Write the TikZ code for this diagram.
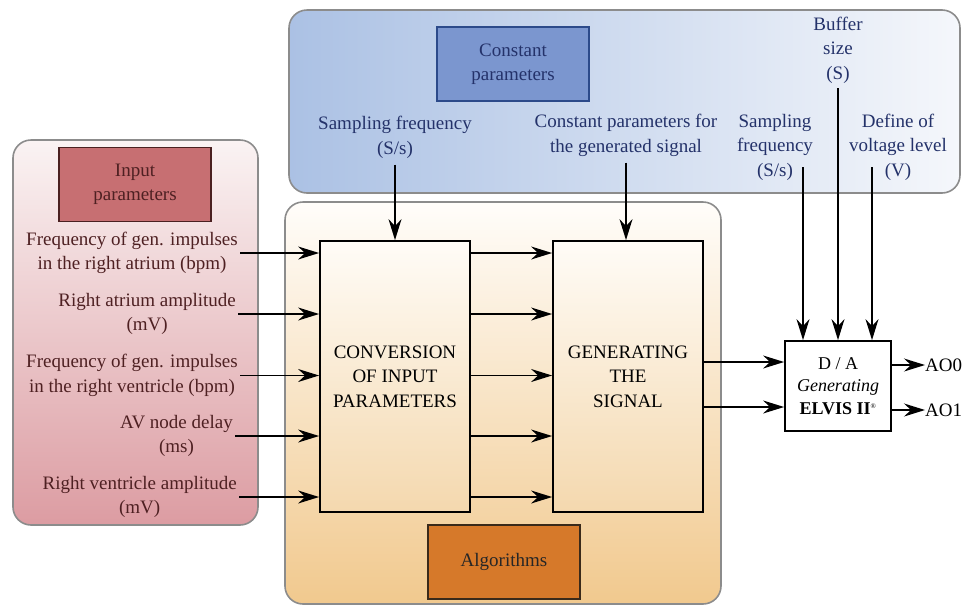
\documentclass[tikz,border=0pt]{standalone}
\usepackage{fontspec}
\setmainfont{LiberationSerif}[Extension=.ttf,UprightFont=*-Regular,BoldFont=*-Bold,ItalicFont=*-Italic,BoldItalicFont=*-BoldItalic]
\usetikzlibrary{arrows.meta,calc}
\definecolor{pinktxt}{HTML}{4E2022}
\definecolor{bluetxt}{HTML}{24326A}
\definecolor{outerborder}{HTML}{8C8C8C}
\definecolor{pinktop}{HTML}{FAF3F3}
\definecolor{pinkbot}{HTML}{DC9CA2}
\definecolor{blueleft}{HTML}{ABC1E4}
\definecolor{blueright}{HTML}{F5F7FB}
\definecolor{orgtop}{HTML}{FFFDFA}
\definecolor{orgbot}{HTML}{F1C98E}
\definecolor{blktop}{HTML}{FFFCF7}
\definecolor{blkbot}{HTML}{F4D8AE}
\definecolor{inpfill}{HTML}{C76F72}
\definecolor{inpdraw}{HTML}{4A2020}
\definecolor{cstfill}{HTML}{7B96CF}
\definecolor{cstdraw}{HTML}{2C4A8A}
\definecolor{algfill}{HTML}{D6792A}
\definecolor{algdraw}{HTML}{3A2A1A}
\begin{document}
\begin{tikzpicture}[x=1pt,y=-1pt,
  font=\rmfamily\fontsize{19}{24.5}\selectfont,
  outer/.style={draw=outerborder,line width=1.6pt,rounded corners=18pt,inner sep=0pt},
  block/.style={draw=black,line width=1.8pt,top color=blktop,bottom color=blkbot,inner sep=0pt,
    minimum width=150pt,minimum height=271pt,align=center},
  tag/.style={line width=1.6pt,inner sep=0pt,minimum width=152pt,minimum height=74pt,align=center},
  lbl/.style={align=center,inner sep=0pt},
  arr/.style={line width=1.5pt,-{Stealth[length=21pt,width=13pt,inset=7pt]}}]
\useasboundingbox (0,0) rectangle (974,606);
% outer regions
\node[outer,minimum width=245pt,minimum height=385pt,top color=pinktop,bottom color=pinkbot] (pinkreg) at (135.5,332.5) {};
\node[outer,minimum width=671pt,minimum height=183pt,left color=blueleft,right color=blueright] (bluereg) at (624.5,101.5) {};
\node[outer,minimum width=436pt,minimum height=402pt,top color=orgtop,bottom color=orgbot] (orgreg) at (503,403) {};
% title tags
\node[tag,draw=inpdraw,fill=inpfill,text=pinktxt] (inp) at (135,184.5) {Input\\parameters};
\node[tag,draw=cstdraw,fill=cstfill,text=bluetxt] (cst) at (513,64) {Constant\\parameters};
\node[tag,draw=algdraw,fill=algfill,text=black!85] (alg) at (504,562) {Algorithms};
% main blocks
\node[block] (conv) at (395,376.5) {CONVERSION\\OF INPUT\\PARAMETERS};
\node[block] (gen) at (628,376.5) {GENERATING\\THE\\SIGNAL};
\node[draw=black,line width=1.8pt,fill=white,minimum width=106pt,minimum height=90pt,inner sep=0pt,
  align=center,font=\rmfamily\fontsize{18}{22.5}\selectfont] (da) at (838,386)
  {D / A\\\textit{Generating}\\\textbf{ELVIS II}\textsuperscript{\scriptsize ®}};
% input labels
\begin{scope}[every node/.style={lbl,text=pinktxt,anchor=east}]
\node (in1) at (238,253) {Frequency of gen. impulses\\in the right atrium (bpm)};
\node (in2) at (236,314) {Right atrium amplitude\\(mV)};
\node (in3) at (238,375.5) {Frequency of gen. impulses\\in the right ventricle (bpm)};
\node (in4) at (233,436) {AV node delay\\(ms)};
\node (in5) at (237,497) {Right ventricle amplitude\\(mV)};
\end{scope}
% constant labels
\begin{scope}[every node/.style={lbl,text=bluetxt}]
\node (sf1) at (395,137.5) {Sampling frequency\\(S/s)};
\node (cpg) at (626,135.5) {Constant parameters for\\the generated signal};
\node (sf2) at (775,147) {Sampling\\frequency\\(S/s)};
\node (buf) at (838,50) {Buffer\\size\\(S)};
\node (vol) at (898,147) {Define of\\voltage level\\(V)};
\end{scope}
\coordinate (sf2s) at (803,167);
\coordinate (bufs) at (838,88);
\coordinate (vols) at (872,167);
\coordinate (g1) at ($(da.west)+(0,-24)$);
\coordinate (g2) at ($(da.west)+(0,21)$);
% outputs
\node[lbl,anchor=west] (ao0) at (925,365) {AO0};
\node[lbl,anchor=west] (ao1) at (925,410) {AO1};
% connectors: inputs
\foreach \n in {in1,in2,in3,in4,in5}{
  \draw[arr] (\n.east) ++(2,0) -- (\n.east -| conv.west);
  \draw[arr] (\n.east -| conv.east) -- (\n.east -| gen.west);
}
% constant inputs
\draw[arr] ([yshift=-6pt]sf1.south) -- (conv.north);
\draw[arr] ([yshift=-6pt]cpg.south) -- (cpg.south |- gen.north);
\draw[arr] (sf2s) -- (sf2s |- da.north);
\draw[arr] (bufs) -- (da.north);
\draw[arr] (vols) -- (vols |- da.north);
% generating to D/A
\draw[arr] (g1 -| gen.east) -- (g1);
\draw[arr] (g2 -| gen.east) -- (g2);
% outputs
\draw[arr] (da.east |- ao0.west) -- (ao0.west);
\draw[arr] (da.east |- ao1.west) -- (ao1.west);
\end{tikzpicture}
\end{document}
